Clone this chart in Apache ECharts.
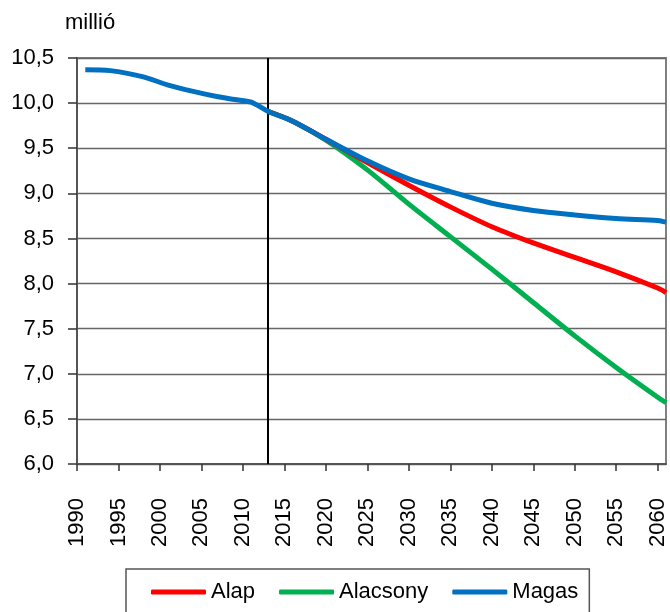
<!DOCTYPE html>
<html>
<head>
<meta charset="utf-8">
<script src="https://cdn.jsdelivr.net/npm/echarts@6/dist/echarts.min.js"></script>
<style>
html,body{margin:0;padding:0;background:#fff;}
#c{width:670px;height:612px;}
</style>
</head>
<body>
<div id="c"></div>
<script>
// ---- data ----
const histYears  = [1991,1994,1998,2001,2004,2007,2009,2011];
const histValues = [10.37,10.36,10.29,10.20,10.13,10.07,10.04,10.01];
const projYears = [2013,2016,2020,2025,2030,2035,2040,2045,2050,2055,2060,2061];
const alap      = [9.91,9.80,9.60,9.34,9.09,8.85,8.63,8.45,8.29,8.13,7.95,7.90];
const alacsony  = [9.91,9.80,9.59,9.26,8.88,8.52,8.16,7.79,7.42,7.07,6.74,6.68];
const magas     = [9.91,9.80,9.60,9.36,9.16,9.02,8.89,8.81,8.76,8.72,8.70,8.68];
const seriesNames = ['Alap','Alacsony','Magas'];
const baseYear = 2013;
const yTicks = {min:6, max:10.5, step:0.5};
const xTicks = {min:1990, max:2061, step:5};
const unitLabel = 'millió';

function hasFont(name){
  const c = document.createElement('canvas').getContext('2d');
  const s = 'Alacsony 2015 millió';
  c.font = '40px monospace'; const a = c.measureText(s).width;
  c.font = '40px "' + name + '", monospace'; const b = c.measureText(s).width;
  return Math.abs(a - b) > 0.5;
}
const narrow = hasFont('Liberation Sans Narrow');
const FONT = narrow ? '"Liberation Sans Narrow", sans-serif' : '"Liberation Sans", Arial, sans-serif';
const FS = narrow ? {y:25, x:24, leg:25, title:25} : {y:22, x:22, leg:22, title:22};

const pairs = (xs, ys) => xs.map((x,i)=>[x, ys[i]]);

const chart = echarts.init(document.getElementById('c'), null, {renderer:'canvas'});
chart.setOption({
  animation:false,
  backgroundColor:'#fff',
  title:{text:unitLabel, left:60, top:7, textStyle:{fontFamily:FONT, fontSize:FS.title, fontWeight:'normal', color:'#000'}},
  grid:{left:77, right:4, top:58, bottom:148, show:true, borderColor:'#808080', borderWidth:2, backgroundColor:'transparent'},
  legend:{
    data:seriesNames, left:126, top:569, orient:'horizontal',
    borderColor:'#555', borderWidth:1.5, padding:[12,11,40,25],
    itemWidth:55, itemHeight:5, itemGap:24, icon:'roundRect',
    textStyle:{fontFamily:FONT, fontSize:FS.leg, color:'#000'}
  },
  xAxis:{
    type:'value', min:xTicks.min, max:xTicks.max, interval:xTicks.step,
    axisLine:{show:true, lineStyle:{color:'#555', width:2}},
    axisTick:{show:true, length:7, lineStyle:{color:'#333', width:1.5}},
    splitLine:{show:false},
    axisLabel:{rotate:90, margin:34, fontFamily:FONT, fontSize:FS.x, color:'#000',
      showMaxLabel:false,
      formatter:v => (v % 5 === 0 ? String(v) : '')}
  },
  yAxis:{
    type:'value', min:yTicks.min, max:yTicks.max, interval:yTicks.step,
    axisLine:{show:true, lineStyle:{color:'#555', width:2}},
    axisTick:{show:true, inside:false, length:9, lineStyle:{color:'#333', width:1.5}},
    splitLine:{show:true, lineStyle:{color:'#666', width:1.3}},
    axisLabel:{margin:23, fontFamily:FONT, fontSize:FS.y, color:'#000',
      formatter:v => v.toFixed(1).replace('.', ',')}
  },
  series:[
    {name:'Alacsony', type:'line', smooth:0.3, showSymbol:false, symbol:'none', z:3,
     data:pairs(projYears, alacsony), lineStyle:{color:'#00B050', width:5}, itemStyle:{color:'#00B050'}},
    {name:'Alap', type:'line', smooth:0.3, showSymbol:false, symbol:'none', z:4,
     data:pairs(projYears, alap), lineStyle:{color:'#FF0000', width:5}, itemStyle:{color:'#FF0000'}},
    {name:'Magas', type:'line', smooth:0.3, showSymbol:false, symbol:'none', z:5,
     data:pairs(histYears.concat(projYears), histValues.concat(magas)),
     lineStyle:{color:'#0070C0', width:5}, itemStyle:{color:'#0070C0'},
     markLine:{silent:true, symbol:'none', label:{show:false},
       lineStyle:{color:'#000', width:2, type:'solid'},
       data:[{xAxis:baseYear}]}}
  ]
});
</script>
</body>
</html>
